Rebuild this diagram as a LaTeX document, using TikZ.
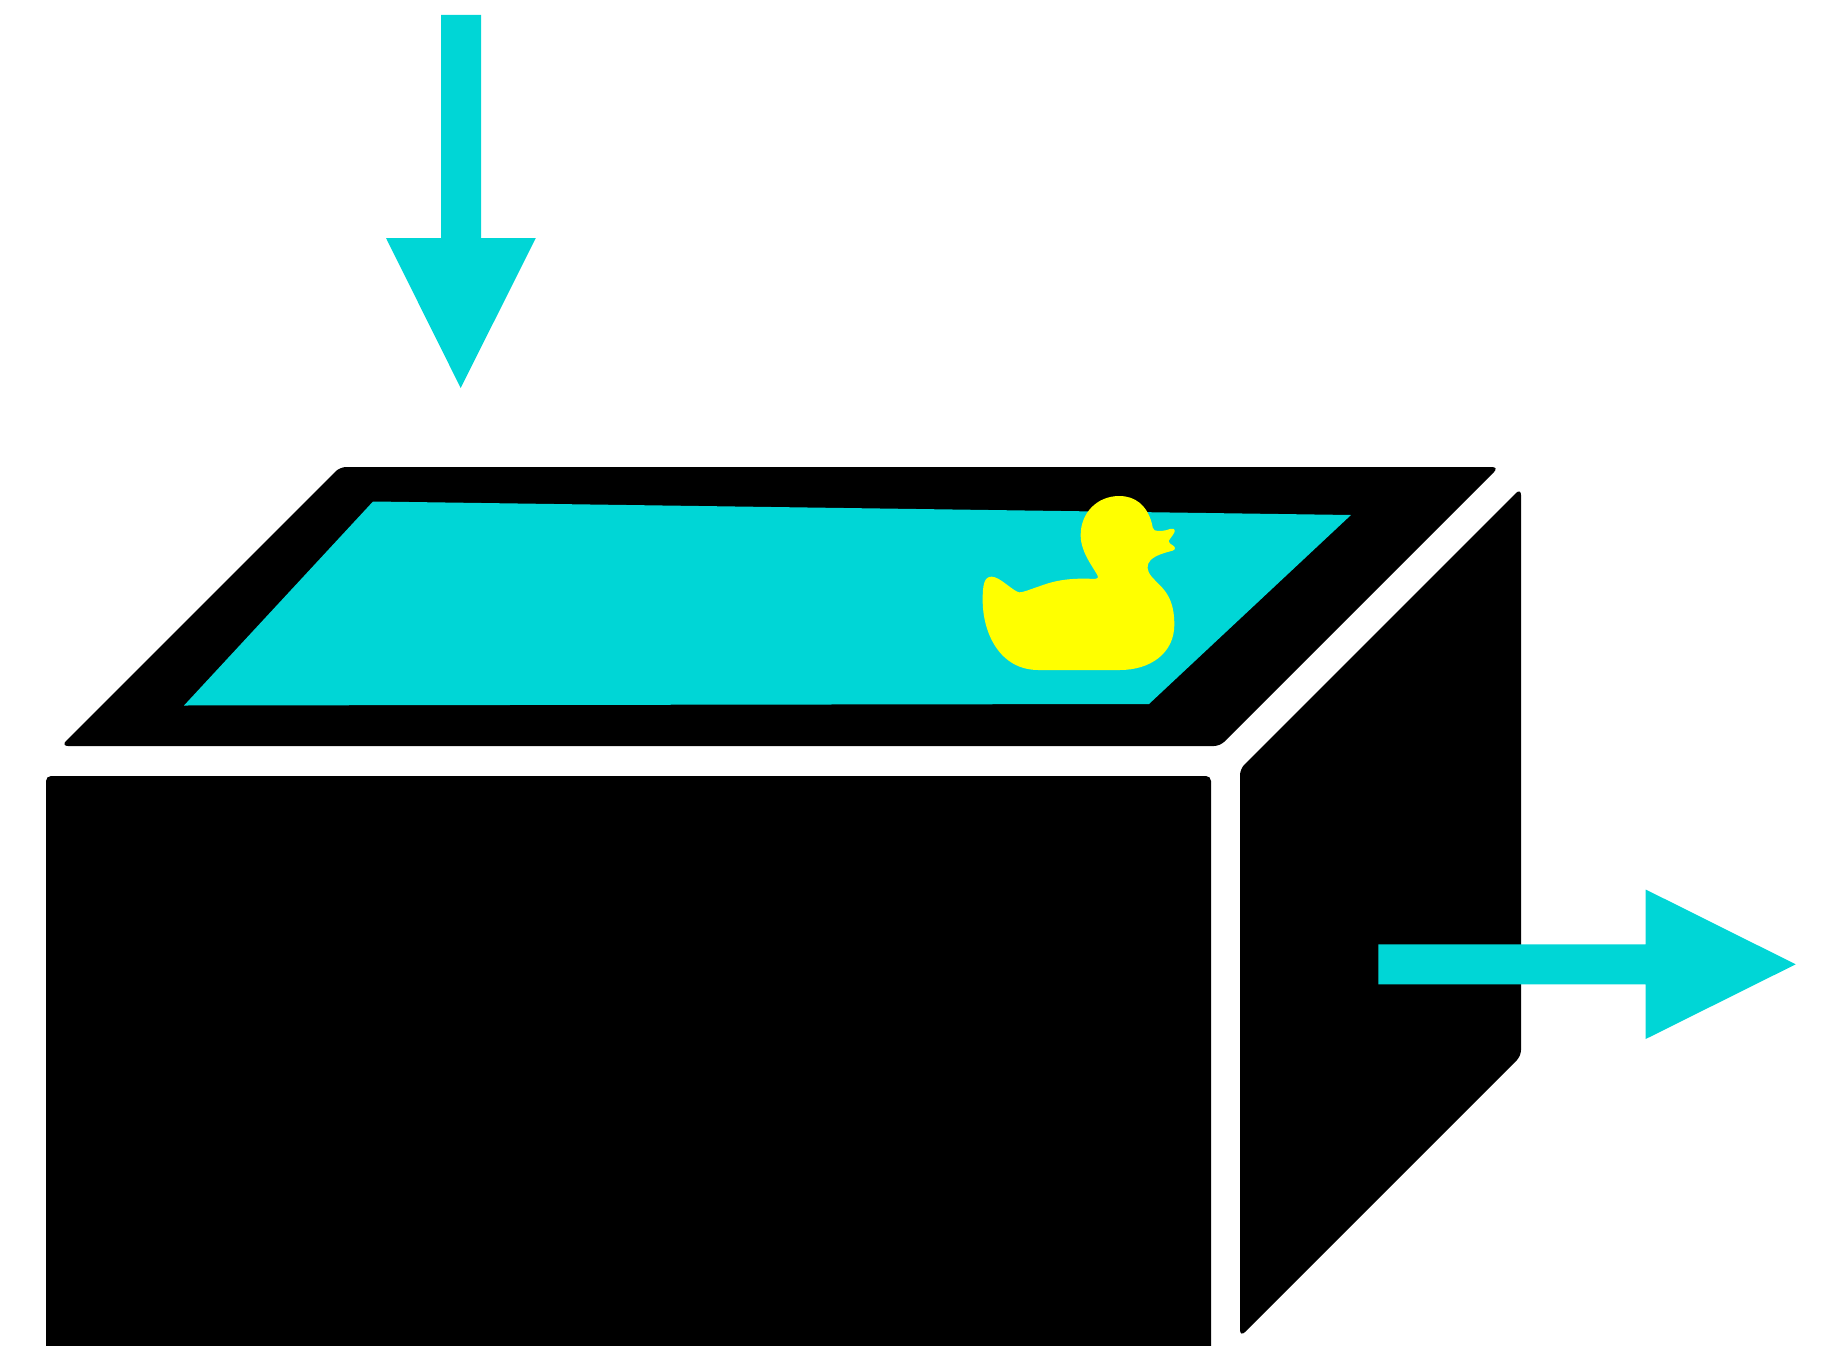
\documentclass[tikz,border=0pt]{standalone}
\definecolor{water}{RGB}{0,214,214}
\definecolor{duck}{RGB}{255,255,0}
\tikzset{boxface/.style={fill=black},waterfill/.style={fill=water},duckfill/.style={fill=duck}}
\begin{document}
\begin{tikzpicture}[x=1pt,y=-1pt]
\useasboundingbox (0,0) rectangle (1824,1346);
% front face
\begin{scope}
\clip (0,0) rectangle (1824,1346);
\fill[boxface] (46,1360) [rounded corners=5pt] -- (46,776) -- (1211,776) [sharp corners] -- (1211,1360) -- cycle;
\end{scope}
% lid
\fill[boxface] (700,746) [rounded corners=7pt] -- (61,746) [rounded corners=6pt] -- (340,467) [rounded corners=7pt] -- (1499,467) [rounded corners=6pt] -- (1220,746) [sharp corners] -- cycle;
% side face
\fill[boxface] (1521,800) [rounded corners=7pt] -- (1521,488) [rounded corners=6pt] -- (1240,769) [rounded corners=7pt] -- (1240,1337) [rounded corners=6pt] -- (1521,1056) [sharp corners] -- cycle;
% water
\fill[waterfill] (373,501.5) -- (1351,515) -- (1149,704) -- (184,705.5) -- cycle;
% duck
\begin{scope}[shift={(960,480)},x=0.33333pt,y=-0.33333pt]
\fill[duckfill] (235,570) -- (480,570)
 .. controls (570,570) and (645,520) .. (643,430)
 .. controls (642,340) and (600,320) .. (575,290)
 .. controls (560,272) and (558,255) .. (572,240)
 .. controls (588,225) and (615,218) .. (638,212)
 .. controls (648,208) and (646,200) .. (638,196)
 .. controls (632,193) and (626,188) .. (626,183)
 .. controls (630,175) and (640,165) .. (644,155)
 .. controls (645,146) and (638,144) .. (630,147)
 .. controls (615,153) and (595,155) .. (584,151)
 .. controls (578,149) and (578,140) .. (575,128)
 .. controls (560,75) and (525,48) .. (478,48)
 .. controls (410,48) and (362,100) .. (362,165)
 .. controls (362,215) and (395,255) .. (412,285)
 .. controls (416,293) and (412,298) .. (405,297)
 .. controls (320,292) and (275,305) .. (235,320)
 .. controls (205,330) and (190,337) .. (178,337)
 .. controls (160,335) and (120,290) .. (95,290)
 .. controls (72,290) and (68,315) .. (68,360)
 .. controls (68,460) and (120,570) .. (235,570) -- cycle;
\end{scope}
% inflow arrow
\fill[waterfill] (441,15) -- (481,15) -- (481,238) -- (535.8,238) -- (460.7,388) -- (386,238) -- (441,238) -- cycle;
% outflow arrow
\fill[waterfill] (1378.3,944.3) -- (1645.7,944.3) -- (1645.7,889.5) -- (1795.7,964.3) -- (1645.7,1039) -- (1645.7,984.3) -- (1378.3,984.3) -- cycle;
\end{tikzpicture}
\end{document}
